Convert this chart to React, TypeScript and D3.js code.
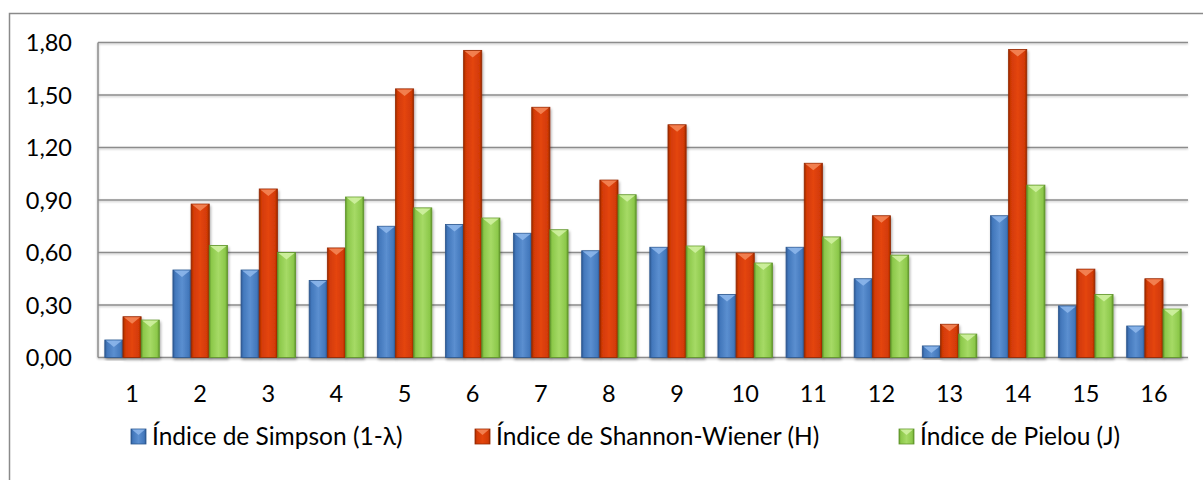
import React from "react";
import * as d3 from "d3";

const categories = ["1","2","3","4","5","6","7","8","9","10","11","12","13","14","15","16"];
const simpson = [0.10,0.50,0.50,0.44,0.75,0.76,0.71,0.61,0.63,0.36,0.63,0.45,0.066,0.81,0.295,0.18];
const shannon = [0.233,0.877,0.963,0.626,1.535,1.755,1.43,1.014,1.33,0.597,1.11,0.81,0.19,1.76,0.505,0.45];
const pielou = [0.214,0.64,0.60,0.917,0.855,0.797,0.73,0.93,0.637,0.54,0.689,0.585,0.134,0.985,0.36,0.277];
const seriesNames = ["Índice de Simpson (1-λ)", "Índice de Shannon-Wiener (H)", "Índice de Pielou (J)"];
const yTicks = [0, 0.3, 0.6, 0.9, 1.2, 1.5, 1.8];

const W = 1203, H = 480;
const plot = { left: 98, right: 1188, top: 42.5, bottom: 357.5 };
const FONT = "Lato, 'Open Sans', sans-serif";

const palette = [
  { key: "b", mid: "#5b8fd0", base: "#4277bb", edge: "#2c5790", top: "#8fb9ec" },
  { key: "r", mid: "#e4450c", base: "#d23a06", edge: "#962800", top: "#f58a5c" },
  { key: "g", mid: "#a6da66", base: "#8cc84a", edge: "#5f952a", top: "#d2f2a4" },
];
const legendX = [131, 475, 899];

export default function App() {
  const series = [simpson, shannon, pielou];
  const x0 = d3.scaleBand<string>().domain(categories).range([plot.left, plot.right]).paddingInner(0).paddingOuter(0);
  const x1 = d3.scaleBand<number>().domain([0, 1, 2]).range([0, x0.bandwidth()]).paddingInner(0).paddingOuter(0.375);
  const y = d3.scaleLinear().domain([0, 1.8]).range([plot.bottom, plot.top]);
  const fmt = (v: number) => d3.format(".2f")(v).replace(".", ",");
  const bw = x1.bandwidth();

  return (
    <svg width={W} height={H} style={{ position: "absolute", left: 0, top: 0, background: "#fff" }} fontFamily={FONT}>
      <defs>
        {palette.map((p) => (
          <linearGradient key={p.key} id={"grad-" + p.key} x1="0" x2="1" y1="0" y2="0">
            <stop offset="0" stopColor={p.edge} />
            <stop offset="0.12" stopColor={p.base} />
            <stop offset="0.5" stopColor={p.mid} />
            <stop offset="0.88" stopColor={p.base} />
            <stop offset="1" stopColor={p.edge} />
          </linearGradient>
        ))}
        <filter id="shadow" x="-30%" y="-10%" width="160%" height="130%">
          <feGaussianBlur in="SourceAlpha" stdDeviation="1.5" />
          <feOffset dx="1" dy="1.5" result="b" />
          <feComponentTransfer><feFuncA type="linear" slope="0.35" /></feComponentTransfer>
          <feMerge><feMergeNode /><feMergeNode in="SourceGraphic" /></feMerge>
        </filter>
        <filter id="lineShadow" x="-1%" y="-100%" width="102%" height="400%">
          <feGaussianBlur in="SourceAlpha" stdDeviation="0.8" />
          <feOffset dx="0" dy="1.2" />
          <feComponentTransfer><feFuncA type="linear" slope="0.25" /></feComponentTransfer>
          <feMerge><feMergeNode /><feMergeNode in="SourceGraphic" /></feMerge>
        </filter>
      </defs>

      {/* outer chart border */}
      <rect x={9.5} y={13.5} width={1400} height={600} fill="none" stroke="#8a8a8a" strokeWidth={1.5} />

      {/* gridlines */}
      <g filter="url(#lineShadow)">
        {yTicks.map((t) => (
          <line key={t} x1={plot.left} x2={plot.right} y1={y(t)} y2={y(t)} stroke="#8c8c8c" strokeWidth={1.5} />
        ))}
        <line x1={plot.left} x2={plot.left} y1={plot.top} y2={plot.bottom} stroke="#8c8c8c" strokeWidth={1.5} />
      </g>

      {/* y tick labels */}
      {yTicks.map((t) => (
        <text key={t} x={72} y={y(t) + 8.5} textAnchor="end" fontSize={23.5} fill="#000">{fmt(t)}</text>
      ))}

      {/* bars */}
      {categories.map((c, i) => (
        <g key={c}>
          {series.map((s, k) => {
            const p = palette[k];
            const bx = (x0(c) as number) + (x1(k) as number);
            const by = y(s[i]);
            const bh = y(0) - by;
            const bev = Math.min(7, bh);
            return (
              <g key={k} filter="url(#shadow)">
                <rect x={bx} y={by} width={bw} height={bh} fill={`url(#grad-${p.key})`} stroke={p.edge} strokeWidth={0.8} />
                <polygon
                  points={`${bx + 1},${by + 0.5} ${bx + bw - 1},${by + 0.5} ${bx + bw / 2},${by + bev}`}
                  fill={p.top}
                  opacity={0.85}
                />
              </g>
            );
          })}
        </g>
      ))}

      {/* x tick labels */}
      {categories.map((c) => (
        <text key={c} x={(x0(c) as number) + x0.bandwidth() / 2} y={401.5} textAnchor="middle" fontSize={23.5} fill="#000">{c}</text>
      ))}

      {/* legend */}
      {seriesNames.map((n, k) => {
        const p = palette[k];
        const lx = legendX[k];
        return (
          <g key={n}>
            <rect x={lx} y={429} width={15} height={15} fill={`url(#grad-${p.key})`} stroke={p.edge} strokeWidth={0.8} />
            <polygon points={`${lx + 1},${429.5} ${lx + 14},${429.5} ${lx + 7.5},${435}`} fill={p.top} opacity={0.85} />
            <text x={lx + 21} y={444.5} fontSize={24.5} fill="#000">{n}</text>
          </g>
        );
      })}
    </svg>
  );
}
